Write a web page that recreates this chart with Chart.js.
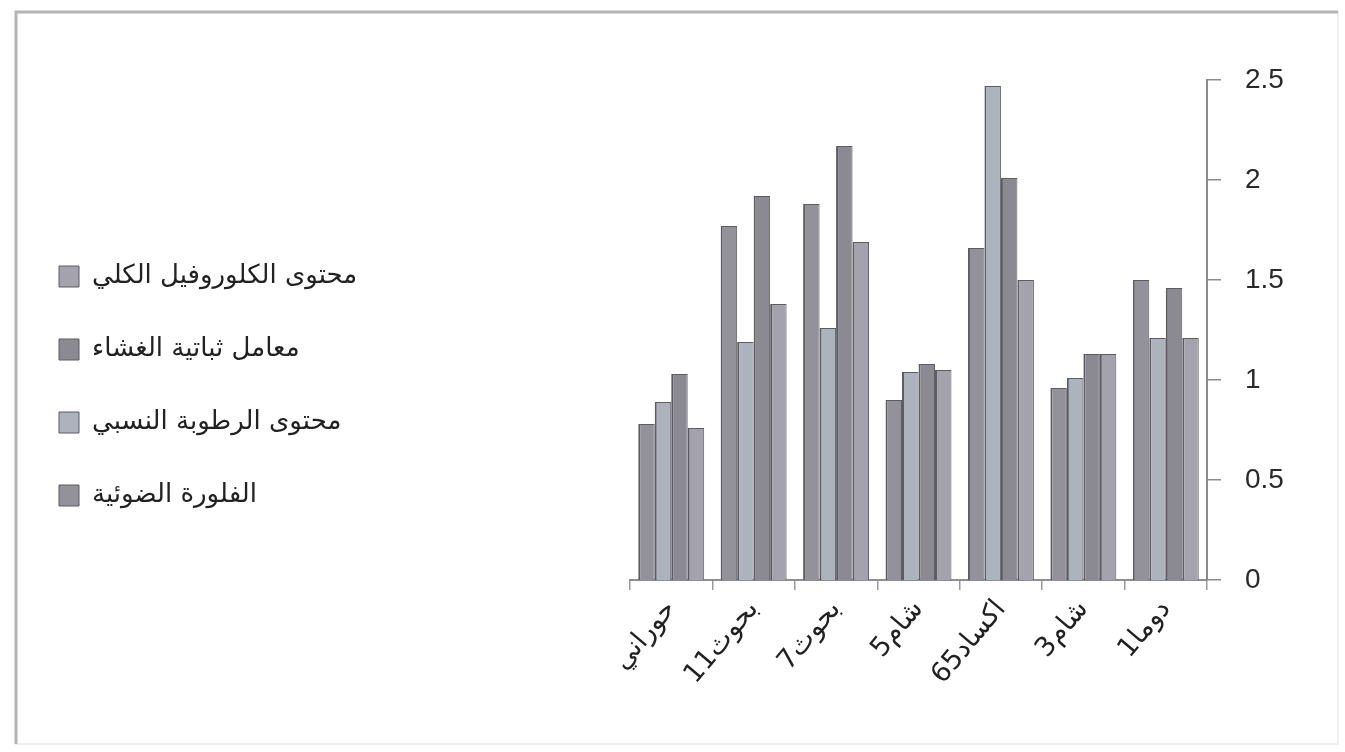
<!DOCTYPE html>
<html>
<head>
<meta charset="utf-8">
<script src="https://cdn.jsdelivr.net/npm/chart.js@4/dist/chart.umd.min.js"></script>
<style>
  html, body { margin: 0; padding: 0; background: #fff; }
  #wrap { width: 1345px; height: 752px; }
  canvas { direction: rtl; }
</style>
</head>
<body>
<div id="wrap"><canvas id="grafico"></canvas></div>
<script>
// الأصناف من اليسار إلى اليمين كما في الشكل
const asnaf = ['حوراني', 'بحوث11', 'بحوث7', 'شام5', 'اكساد65', 'شام3', 'دوما1'];

const fluora = [0.78, 1.77, 1.88, 0.90, 1.66, 0.96, 1.50];     // الفلورة الضوئية
const rutuba = [0.89, 1.19, 1.26, 1.04, 2.47, 1.01, 1.21];     // محتوى الرطوبة النسبي
const thabat = [1.03, 1.92, 2.17, 1.08, 2.01, 1.13, 1.46];     // معامل ثباتية الغشاء
const kloro = [0.76, 1.38, 1.69, 1.05, 1.50, 1.13, 1.21];      // محتوى الكلوروفيل الكلي

const ticksY = [0, 0.5, 1, 1.5, 2, 2.5];

const fonteAr = "'DejaVu Sans', sans-serif";
const fonteNum = "'Liberation Sans', 'DejaVu Sans', sans-serif";

// moldura cinza em volta do grafico
const moldura = {
  id: 'moldura',
  beforeDraw(chart) {
    const c = chart.ctx;
    c.save();
    c.strokeStyle = '#efefef';
    c.lineWidth = 2;
    c.strokeRect(16, 12, 1322, 732);
    c.strokeStyle = '#b4b4b4';
    c.lineWidth = 3;
    c.beginPath();
    c.moveTo(16, 744);
    c.lineTo(16, 12);
    c.lineTo(1338, 12);
    c.stroke();
    c.restore();
  }
};

function serie(nome, valores, cor) {
  return {
    label: nome,
    data: valores,
    backgroundColor: cor,
    borderColor: '#5c5c63',
    borderWidth: { left: 2, top: 1, right: 1, bottom: 0 },
    borderSkipped: 'start',
    categoryPercentage: 0.8,
    barPercentage: 1.0
  };
}

const ctx = document.getElementById('grafico');

const grafico = new Chart(ctx, {
  type: 'bar',
  data: {
    labels: asnaf,
    datasets: [
      serie('الفلورة الضوئية', fluora, '#93929b'),
      serie('محتوى الرطوبة النسبي', rutuba, '#adb3bd'),
      serie('معامل ثباتية الغشاء', thabat, '#8b8a92'),
      serie('محتوى الكلوروفيل الكلي', kloro, '#a3a2ad')
    ]
  },
  options: {
    responsive: true,
    maintainAspectRatio: false,
    animation: false,
    layout: { padding: { left: 12, top: 20, right: 0, bottom: 0 } },
    plugins: {
      tooltip: { enabled: false },
      legend: {
        position: 'left',
        reverse: true,
        maxWidth: 600,
        labels: {
          boxWidth: 20,
          boxHeight: 21,
          padding: 47,
          color: '#222',
          font: { family: fonteAr, size: 26 }
        }
      }
    },
    scales: {
      espaco: { // eixo invisivel so para afastar a legenda da area do grafico
        axis: 'y',
        position: 'left',
        display: true,
        grid: { display: false },
        border: { display: false },
        ticks: { display: false },
        afterFit(scale) {
          const lg = scale.chart.legend;
          const larg = lg ? lg.width : 0;
          scale.width = Math.max(0, 630 - 12 - larg);
        }
      },
      topo: { // espaco em cima da area do grafico
        type: 'category',
        axis: 'x',
        position: 'top',
        display: true,
        grid: { display: false },
        border: { display: false },
        ticks: { display: false },
        afterFit(scale) { scale.height = 60; }
      },
      x: {
        grid: {
          display: true,
          offset: true,
          drawOnChartArea: false,
          drawTicks: true,
          tickLength: 10,
          color: '#9a9a9a',
          lineWidth: 1.5
        },
        border: { display: true, color: '#8f8f8f', width: 2 },
        ticks: {
          color: '#222',
          minRotation: 50,
          maxRotation: 50,
          padding: 4,
          font: { family: fonteAr, size: 27 }
        },
        afterFit(scale) { scale.height = 752 - 580; }
      },
      y: {
        position: 'right',
        min: 0,
        max: 2.5,
        afterBuildTicks(scale) { scale.ticks = ticksY.map(v => ({ value: v })); },
        grid: {
          display: true,
          drawOnChartArea: false,
          drawTicks: true,
          tickLength: 14,
          color: '#8a8a8a',
          lineWidth: 1.5
        },
        border: { display: true, color: '#8a8a8a', width: 2 },
        ticks: {
          color: '#2a2a2a',
          padding: 24,
          font: { family: fonteNum, size: 28 },
          callback: v => String(v)
        },
        afterFit(scale) { scale.width = 1345 - 1207; }
      }
    }
  },
  plugins: [moldura]
});
</script>
</body>
</html>
